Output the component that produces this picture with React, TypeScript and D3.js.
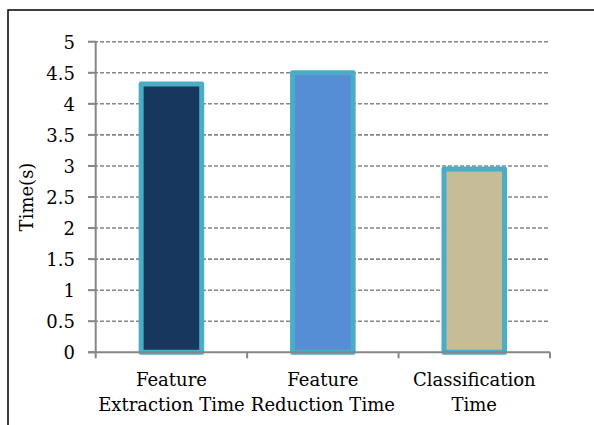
import React from "react";
import * as d3 from "d3";

const categories = ["Feature Extraction Time", "Feature Reduction Time", "Classification Time"];
const categoryLines = [["Feature", "Extraction Time"], ["Feature", "Reduction Time"], ["Classification", "Time"]];
const values = [4.32, 4.5, 2.95];
const barColors = ["#17375E", "#558ED5", "#C4BD97"];
const yTicks = [0, 0.5, 1, 1.5, 2, 2.5, 3, 3.5, 4, 4.5, 5];
const yTitle = "Time(s)";

export default function App() {
  const W = 594, H = 425;
  const left = 95.7, right = 550, top = 41.7, bottom = 352.3;
  const x = d3.scaleBand<string>().domain(categories).range([left, right]).paddingInner(0.6).paddingOuter(0.3);
  const xb = d3.scaleBand<string>().domain(categories).range([left, right]);
  const y = d3.scaleLinear().domain([0, 5]).range([bottom, top]);
  const font = "'DejaVu Serif', serif";
  const fs = 18;
  return (
    <svg width={W} height={H} style={{ position: "absolute", left: 0, top: 0 }}>
      <rect x={0} y={0} width={W} height={H} fill="#fff" />
      <rect x={8} y={10} width={W + 20} height={H + 20} fill="none" stroke="#000" strokeWidth={1.5} />
      {yTicks.filter(t => t > 0).map(t => (
        <line key={t} x1={88} x2={right} y1={y(t)} y2={y(t)} stroke="#868686" strokeWidth={1.6} strokeDasharray="4,2" />
      ))}
      {categories.map((c, i) => (
        <rect key={c} x={x(c)!} y={y(values[i])} width={x.bandwidth()} height={bottom - y(values[i])}
          fill={barColors[i]} stroke="#4BACC6" strokeWidth={5} strokeLinejoin="round" />
      ))}
      <line x1={left} x2={left} y1={top} y2={bottom} stroke="#868686" strokeWidth={2} />
      <line x1={88} x2={right} y1={bottom} y2={bottom} stroke="#868686" strokeWidth={2} />
      {yTicks.map(t => (
        <line key={"t" + t} x1={88} x2={left} y1={y(t)} y2={y(t)} stroke="#868686" strokeWidth={2} />
      ))}
      {[...categories.map(c => xb(c)!), right].map((v, i) => (
        <line key={"xt" + i} x1={v} x2={v} y1={bottom} y2={bottom + 6} stroke="#868686" strokeWidth={2} />
      ))}
      {yTicks.map(t => (
        <text key={"l" + t} x={75} y={y(t) + 7} textAnchor="end" fontFamily={font} fontSize={fs} fill="#000">{t}</text>
      ))}
      {categories.map((c, i) => (
        <text key={"c" + c} textAnchor="middle" fontFamily={font} fontSize={fs} fill="#000">
          {categoryLines[i].map((ln, j) => (
            <tspan key={j} x={xb(c)! + xb.bandwidth() / 2} y={386 + j * 25}>{ln}</tspan>
          ))}
        </text>
      ))}
      <text transform={`translate(33, ${(top + bottom) / 2}) rotate(-90)`} textAnchor="middle" fontFamily={font} fontSize={fs} fill="#000">{yTitle}</text>
    </svg>
  );
}
